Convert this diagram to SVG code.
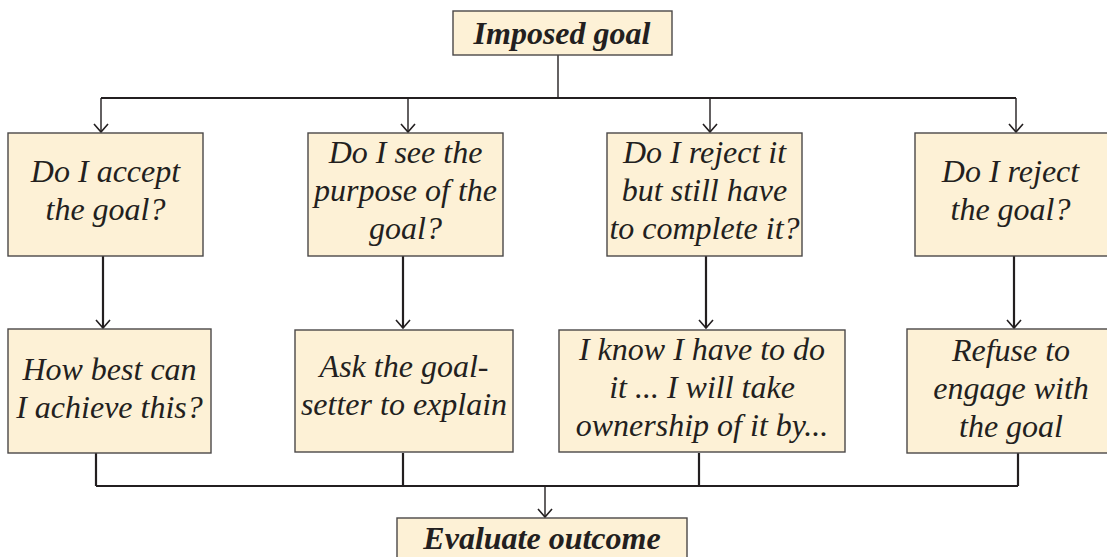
<svg xmlns="http://www.w3.org/2000/svg" width="1107" height="557" viewBox="0 0 1107 557">
  <defs>
    <style>
      .box { fill: #fdf1d6; stroke: #4a4848; stroke-width: 1.4; }
      .txt { font-family: "Liberation Serif", "Times New Roman", serif; font-style: italic; font-size: 32px; fill: #231f20; text-anchor: middle; }
      .bold { font-weight: bold; }
      .thin { fill: none; stroke: #231f20; stroke-width: 1.4; }
      .thick { fill: none; stroke: #231f20; stroke-width: 2.2; }
      .head { fill: none; stroke: #231f20; stroke-width: 1.6; }
    </style>
  </defs>
  <rect width="1107" height="557" fill="#ffffff"/>

  <!-- connectors -->
  <g id="connectors">
    <!-- fan-out from the imposed goal -->
    <path class="thin" d="M558 55 V98"/>
    <path class="thick" d="M101 98 H1016"/>
    <path class="thin" d="M101 98 V132 M408 98 V132 M710 98 V132 M1016 98 V132"/>
    <path class="head" d="M94 124 L101 132 L108 124 M401 124 L408 132 L415 124 M703 124 L710 132 L717 124 M1009 124 L1016 132 L1023 124"/>
    <!-- questions to responses -->
    <path class="thick" d="M103 256 V328 M403 256 V328 M706 256 V328 M1014 256 V328"/>
    <path class="head" d="M96 320 L103 328 L110 320 M396 320 L403 328 L410 320 M699 320 L706 328 L713 320 M1007 320 L1014 328 L1021 320"/>
    <!-- merge into the evaluation -->
    <path class="thick" d="M96 453 V486 M403 453 V486 M699 453 V486 M1018 453 V486 M96 486 H1018"/>
    <path class="thin" d="M545 486 V517"/>
    <path class="head" d="M538 509 L545 517 L552 509"/>
  </g>

  <g id="imposed-goal">
    <rect class="box" x="453" y="11" width="219" height="44"/>
    <text class="txt bold" x="562" y="44">Imposed goal</text>
  </g>

  <g id="q-accept">
    <rect class="box" x="8" y="133" width="195" height="123"/>
    <text class="txt" x="105.5" y="182">Do I accept</text>
    <text class="txt" x="105.5" y="220">the goal?</text>
  </g>

  <g id="q-purpose">
    <rect class="box" x="308" y="133" width="195" height="123"/>
    <text class="txt" x="405.5" y="163">Do I see the</text>
    <text class="txt" x="405.5" y="201">purpose of the</text>
    <text class="txt" x="405.5" y="239">goal?</text>
  </g>

  <g id="q-reject-complete">
    <rect class="box" x="607" y="133" width="195" height="123"/>
    <text class="txt" x="704.5" y="163">Do I reject it</text>
    <text class="txt" x="704.5" y="201">but still have</text>
    <text class="txt" x="704.5" y="239">to complete it?</text>
  </g>

  <g id="q-reject">
    <rect class="box" x="915" y="133" width="200" height="123"/>
    <text class="txt" x="1010.5" y="182">Do I reject</text>
    <text class="txt" x="1010.5" y="220">the goal?</text>
  </g>

  <g id="r-achieve">
    <rect class="box" x="8" y="329" width="203" height="124"/>
    <text class="txt" x="109.5" y="380">How best can</text>
    <text class="txt" x="109.5" y="418">I achieve this?</text>
  </g>

  <g id="r-ask">
    <rect class="box" x="295" y="330" width="218" height="122"/>
    <text class="txt" x="404" y="377">Ask the goal-</text>
    <text class="txt" x="404" y="415">setter to explain</text>
  </g>

  <g id="r-ownership">
    <rect class="box" x="559" y="330" width="286" height="122"/>
    <text class="txt" x="702" y="360">I know I have to do</text>
    <text class="txt" x="702" y="398">it ... I will take</text>
    <text class="txt" x="702" y="436">ownership of it by...</text>
  </g>

  <g id="r-refuse">
    <rect class="box" x="907" y="329" width="210" height="124"/>
    <text class="txt" x="1011" y="361">Refuse to</text>
    <text class="txt" x="1011" y="399">engage with</text>
    <text class="txt" x="1011" y="437">the goal</text>
  </g>

  <g id="evaluate">
    <rect class="box" x="397" y="518" width="290" height="50"/>
    <text class="txt bold" x="542" y="549">Evaluate outcome</text>
  </g>
</svg>
